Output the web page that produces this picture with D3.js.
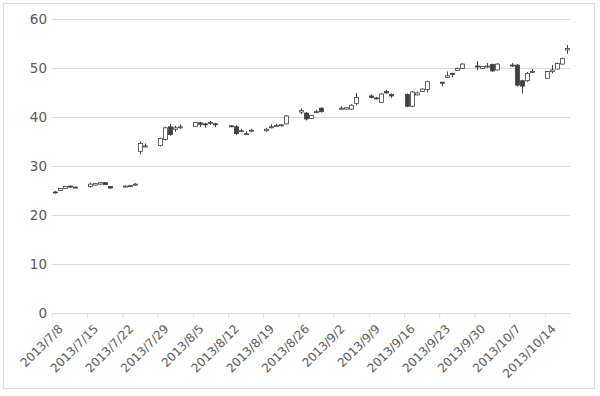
<!DOCTYPE html>
<html><head><meta charset="utf-8">
<script src="https://cdn.jsdelivr.net/npm/d3@7"></script>
<style>body{margin:0;background:#fff}svg{display:block}text{font-family:"DejaVu Sans",Verdana,sans-serif;fill:#595959}</style>
</head><body><svg id="c" width="600" height="396"></svg>
<script>
const dates = ["2013-07-08","2013-07-09","2013-07-10","2013-07-11","2013-07-12",
"2013-07-15","2013-07-16","2013-07-17","2013-07-18","2013-07-19",
"2013-07-22","2013-07-23","2013-07-24","2013-07-25","2013-07-26",
"2013-07-29","2013-07-30","2013-07-31","2013-08-01","2013-08-02",
"2013-08-05","2013-08-06","2013-08-07","2013-08-08","2013-08-09",
"2013-08-12","2013-08-13","2013-08-14","2013-08-15","2013-08-16",
"2013-08-19","2013-08-20","2013-08-21","2013-08-22","2013-08-23",
"2013-08-26","2013-08-27","2013-08-28","2013-08-29","2013-08-30",
"2013-09-03","2013-09-04","2013-09-05","2013-09-06",
"2013-09-09","2013-09-10","2013-09-11","2013-09-12","2013-09-13",
"2013-09-16","2013-09-17","2013-09-18","2013-09-19","2013-09-20",
"2013-09-23","2013-09-24","2013-09-25","2013-09-26","2013-09-27",
"2013-09-30","2013-10-01","2013-10-02","2013-10-03","2013-10-04",
"2013-10-07","2013-10-08","2013-10-09","2013-10-10","2013-10-11",
"2013-10-14","2013-10-15","2013-10-16","2013-10-17","2013-10-18"];
const open  = [24.7,25.0,25.4,25.9,25.7, 25.8,26.1,26.3,26.6,25.8, 25.8,25.9,26.2,33.0,33.9,
 34.2,35.4,38.0,37.5,37.8, 38.1,38.8,38.6,38.7,38.6, 38.2,38.0,37.0,36.5,37.1,
 37.2,37.8,38.1,38.2,38.6, 41.0,40.8,39.7,40.9,41.8, 41.6,41.6,41.6,42.8,
 44.3,43.9,43.0,45.2,44.6, 44.6,42.2,44.5,45.2,45.6, 47.1,48.1,48.9,49.5,49.9,
 50.4,49.9,50.2,50.7,49.6, 50.6,50.6,47.4,47.4,49.1, 47.9,49.3,49.8,50.8,53.7];
const high  = [24.9,25.5,25.9,26.0,25.8, 26.6,26.5,26.7,26.7,25.9, 26.0,26.1,26.5,35.0,34.6,
 35.8,38.0,38.6,38.2,38.5, 39.0,39.0,38.8,39.2,38.8, 38.3,38.3,37.6,37.1,37.6,
 37.8,38.5,38.6,38.5,40.4, 41.8,41.0,40.4,41.5,42.0, 42.2,42.0,42.6,44.9,
 44.6,44.1,44.9,45.5,44.8, 44.8,45.3,45.2,45.9,47.4, 47.2,49.3,49.0,50.1,51.0,
 51.4,50.4,51.0,50.9,51.0, 51.0,50.8,47.6,49.2,49.8, 49.4,50.6,51.1,52.1,54.7];
const low   = [24.4,24.9,25.3,25.5,25.5, 25.6,26.0,26.2,26.1,25.4, 25.7,25.8,26.0,32.4,33.8,
 34.0,35.2,36.2,37.0,37.6, 38.0,38.0,37.8,38.4,37.9, 38.0,36.3,36.9,36.4,36.9,
 37.0,37.7,38.0,38.1,38.5, 40.6,39.3,39.6,40.8,40.9, 41.5,41.5,41.5,42.4,
 43.8,43.6,42.9,44.8,43.9, 42.0,42.0,44.4,45.1,45.0, 46.3,48.0,48.1,49.4,49.8,
 49.6,49.8,50.1,49.2,49.5, 50.2,46.2,44.8,47.2,49.0, 47.8,48.9,49.7,50.7,52.9];
const close = [24.5,25.4,25.8,25.8,25.6, 26.3,26.4,26.6,26.2,25.5, 25.9,26.0,26.3,34.6,34.1,
 35.6,37.8,36.4,37.8,38.0, 38.9,38.5,38.4,38.9,38.4, 38.1,36.6,37.2,36.6,37.3,
 37.5,38.0,38.3,38.4,40.2, 41.3,39.6,40.3,41.1,41.1, 41.8,41.9,42.4,44.0,
 44.0,43.7,44.7,44.9,44.3, 42.2,45.1,44.9,45.7,47.2, 46.9,48.4,48.8,49.9,50.8,
 50.2,50.3,50.4,49.4,50.8, 50.5,46.5,46.3,48.9,49.3, 49.3,49.6,50.9,51.9,54.0];
const yTicks = [0,10,20,30,40,50,60];
const xTickLabels = ["2013/7/8","2013/7/15","2013/7/22","2013/7/29","2013/8/5","2013/8/12","2013/8/19","2013/8/26","2013/9/2","2013/9/9","2013/9/16","2013/9/23","2013/9/30","2013/10/7","2013/10/14"];

const parse = d3.timeParse("%Y-%m-%d");
const data = dates.map((d,i)=>({date:parse(d),o:open[i],h:high[i],l:low[i],c:close[i]}));
const svg = d3.select("#c");
const L=52,R=570,T=19,B=313;
const x = d3.scaleTime().domain([parse("2013-07-08"), parse("2013-10-19")]).range([L,R]);
const y = d3.scaleLinear().domain([0,60]).range([B,T]);
const dayW = x(parse("2013-07-09"))-x(parse("2013-07-08"));

svg.append("rect").attr("x",3.5).attr("y",3.5).attr("width",591).attr("height",385)
  .attr("fill","#fff").attr("stroke","#d9d9d9");

// grid
svg.append("g").selectAll("line").data(yTicks.filter(v=>v>0)).join("line")
  .attr("x1",L).attr("x2",R).attr("y1",d=>Math.round(y(d))+0.5).attr("y2",d=>Math.round(y(d))+0.5)
  .attr("stroke","#d9d9d9");

// y axis labels
const ya = svg.append("g").attr("transform",`translate(${L},0)`)
  .call(d3.axisLeft(y).tickValues(yTicks).tickSize(0).tickPadding(5).tickFormat(d3.format("d")));
ya.select(".domain").remove();
ya.selectAll("text").style("font-size","13.5px").attr("fill","#595959");

// x axis
const tickDates = xTickLabels.map(s=>d3.timeParse("%Y/%m/%d")(s));
const xa = svg.append("g").attr("transform",`translate(0,${Math.round(B)+0.5})`)
  .call(d3.axisBottom(x).tickValues(tickDates).tickSize(4).tickFormat((d,i)=>xTickLabels[i]));
xa.select(".domain").attr("stroke","#d9d9d9").attr("d",`M${L},0H${R}`);
xa.selectAll(".tick line").attr("stroke","#d9d9d9");
xa.selectAll(".tick text").style("font-size","12px").attr("fill","#595959")
  .attr("text-anchor","end").attr("transform","translate(4,9) rotate(-45)").attr("dy","0.35em").attr("y",6).attr("x",0);

// candles
const g = svg.append("g");
const cx = d=>Math.round(x(d.date)+dayW/2)+0.5;
g.selectAll("line.w").data(data).join("line").attr("class","w")
  .attr("x1",cx).attr("x2",cx).attr("y1",d=>y(d.h)).attr("y2",d=>y(d.l))
  .attr("stroke","#404040").attr("stroke-width",1);
g.selectAll("rect.b").data(data).join("rect").attr("class","b")
  .attr("x",d=>cx(d)-2).attr("width",4)
  .attr("y",d=>y(Math.max(d.o,d.c))).attr("height",d=>Math.max(1,Math.abs(y(d.o)-y(d.c))))
  .attr("fill",d=>d.c>=d.o?"#fff":"#404040").attr("stroke","#404040").attr("stroke-width",0.8);
</script></body></html>
